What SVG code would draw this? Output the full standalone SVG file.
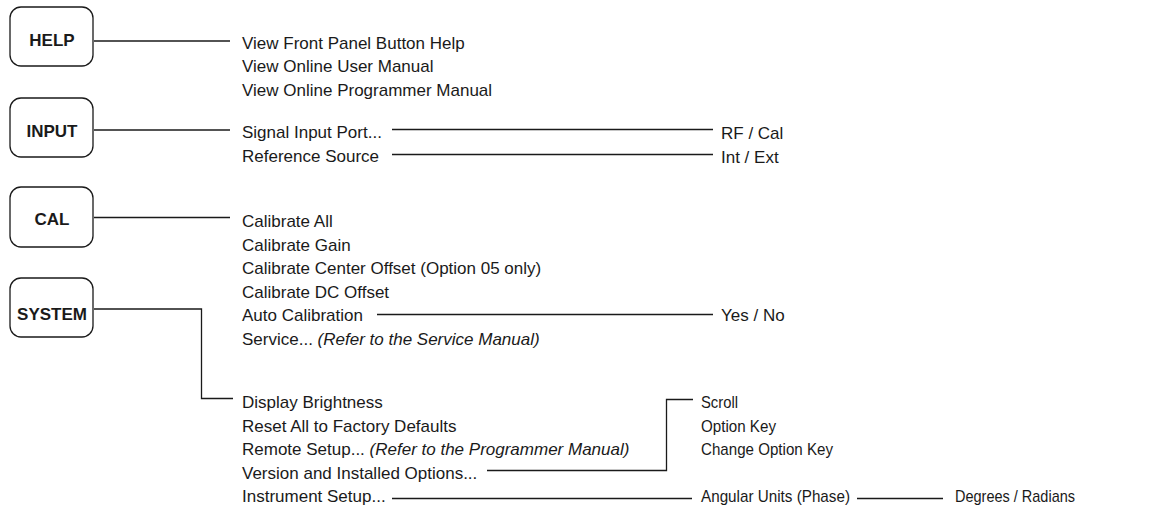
<svg xmlns="http://www.w3.org/2000/svg" width="1157" height="513" viewBox="0 0 1157 513">
<style>
.box{fill:#fff;stroke:#1a1a1a;stroke-width:1.3}
.bt{font-family:"Liberation Sans",Arial,sans-serif;font-weight:bold;font-size:17px;fill:#1a1a1a;text-anchor:middle}
.t{font-family:"Liberation Sans",Arial,sans-serif;font-size:17px;fill:#1a1a1a}
.i{font-style:italic}
.c{fill:none;stroke:#1a1a1a;stroke-width:1.3}
</style>
<rect width="1157" height="513" fill="#fff"/>
<g id="connectors">
<path class="c" d="M94 41H230"/>
<path class="c" d="M94 130H230"/>
<path class="c" d="M392 129.5H713"/>
<path class="c" d="M392 154.5H713"/>
<path class="c" d="M94 217.5H230"/>
<path class="c" d="M377 314.5H713"/>
<path class="c" d="M94 309H201.5V398.5H233"/>
<path class="c" d="M487 470.5H666.5V399.5H693"/>
<path class="c" d="M392 498.5H692"/>
<path class="c" d="M857 498.5H943"/>
</g>
<g id="help">
<rect class="box" x="10" y="7" width="83" height="59" rx="11"/>
<text class="bt" x="52" y="45.5">HELP</text>
</g>
<g id="input">
<rect class="box" x="10" y="98" width="83" height="59" rx="11"/>
<text class="bt" x="52" y="136.5">INPUT</text>
</g>
<g id="cal">
<rect class="box" x="10" y="187" width="83" height="60" rx="11"/>
<text class="bt" x="52" y="224.5">CAL</text>
</g>
<g id="system">
<rect class="box" x="10" y="278" width="83" height="59" rx="11"/>
<text class="bt" x="52" y="319.5">SYSTEM</text>
</g>
<g id="help-items">
<text class="t" x="242" y="48.5">View Front Panel Button Help</text>
<text class="t" x="242" y="72">View Online User Manual</text>
<text class="t" x="242" y="95.5">View Online Programmer Manual</text>
</g>
<g id="input-items">
<text class="t" x="242" y="138">Signal Input Port...</text>
<text class="t" x="242" y="161.5">Reference Source</text>
</g>
<g id="input-values">
<text class="t" x="721" y="138.5">RF / Cal</text>
<text class="t" x="721" y="163">Int / Ext</text>
</g>
<g id="cal-items">
<text class="t" x="242" y="227">Calibrate All</text>
<text class="t" x="242" y="250.5">Calibrate Gain</text>
<text class="t" x="242" y="274">Calibrate Center Offset (Option 05 only)</text>
<text class="t" x="242" y="297.5">Calibrate DC Offset</text>
<text class="t" x="242" y="321">Auto Calibration</text>
<text class="t" x="242" y="344.5">Service... <tspan class="i">(Refer to the Service Manual)</tspan></text>
</g>
<g id="autocal-values">
<text class="t" x="721" y="321">Yes / No</text>
</g>
<g id="system-items">
<text class="t" x="242" y="408">Display Brightness</text>
<text class="t" x="242" y="431.5">Reset All to Factory Defaults</text>
<text class="t" x="242" y="455">Remote Setup... <tspan class="i">(Refer to the Programmer Manual)</tspan></text>
<text class="t" x="242" y="478.5">Version and Installed Options...</text>
<text class="t" x="242" y="502">Instrument Setup...</text>
</g>
<g id="version-items">
<text class="t" x="701" y="408" textLength="37" lengthAdjust="spacingAndGlyphs">Scroll</text>
<text class="t" x="701" y="431.5" textLength="75" lengthAdjust="spacingAndGlyphs">Option Key</text>
<text class="t" x="701" y="455" textLength="132" lengthAdjust="spacingAndGlyphs">Change Option Key</text>
</g>
<g id="angular">
<text class="t" x="701" y="502" textLength="149" lengthAdjust="spacingAndGlyphs">Angular Units (Phase)</text>
</g>
<g id="degrees">
<text class="t" x="955" y="502" textLength="120" lengthAdjust="spacingAndGlyphs">Degrees / Radians</text>
</g>
</svg>
